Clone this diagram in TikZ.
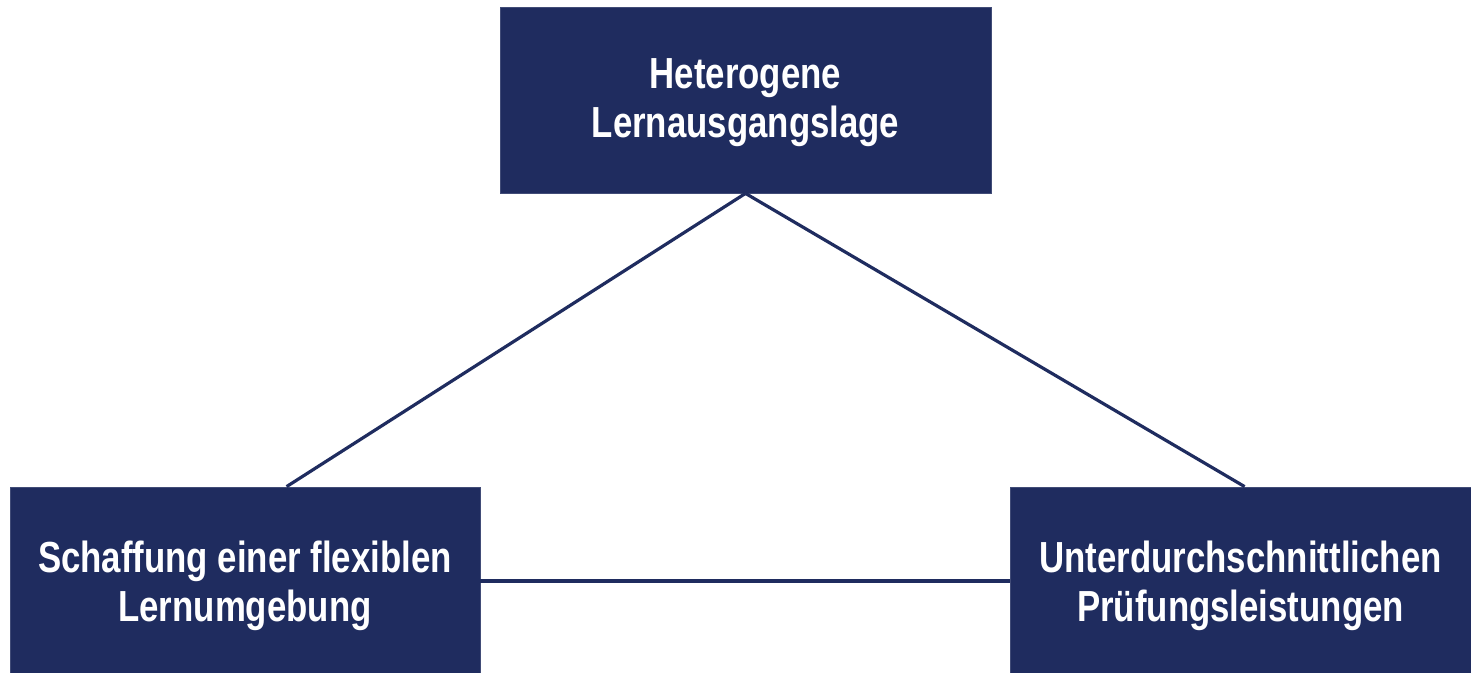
\documentclass[tikz,border=0pt]{standalone}
\usepackage{fontspec}
\setmainfont{Liberation Sans}[FakeStretch=0.8]
\definecolor{navy}{HTML}{1F2C5F}
\begin{document}
\begin{tikzpicture}[x=1pt,y=-1pt,
  box/.style={draw=navy!85!white,line width=0.8pt,fill=navy,inner sep=0pt},
  boxtext/.style={text=white,inner sep=0pt,align=center,font=\fontsize{43.5}{49}\selectfont\bfseries},
  link/.style={draw=navy,line width=3.2pt}]
\useasboundingbox (0,0) rectangle (1471,672);
\clip (0,0) rectangle (1471,672);
\node[box,minimum width=491pt,minimum height=186pt] (top) at (745.5,100) {};
\node[box,minimum width=470pt,minimum height=188pt] (left) at (245,581) {};
\node[box,minimum width=461pt,minimum height=188pt] (right) at (1240.5,581) {};
\node[boxtext] (topt) at ([yshift=-3pt]top.center) {Heterogene\\Lernausgangslage};
\node[boxtext] (leftt) at ([yshift=-5pt]left.center) {Schaffung einer flexiblen\\Lernumgebung};
\node[boxtext] (rightt) at ([yshift=-5pt]right.center) {Unterdurchschnittlichen\\Prüfungsleistungen};
\coordinate (la) at ([xshift=277pt]left.north west);
\coordinate (ra) at ([xshift=235pt]right.north west);
\draw[link] (top.south) -- (la);
\draw[link] (top.south) -- (ra);
\draw[link] (left.east) -- (right.west);
\end{tikzpicture}
\end{document}
